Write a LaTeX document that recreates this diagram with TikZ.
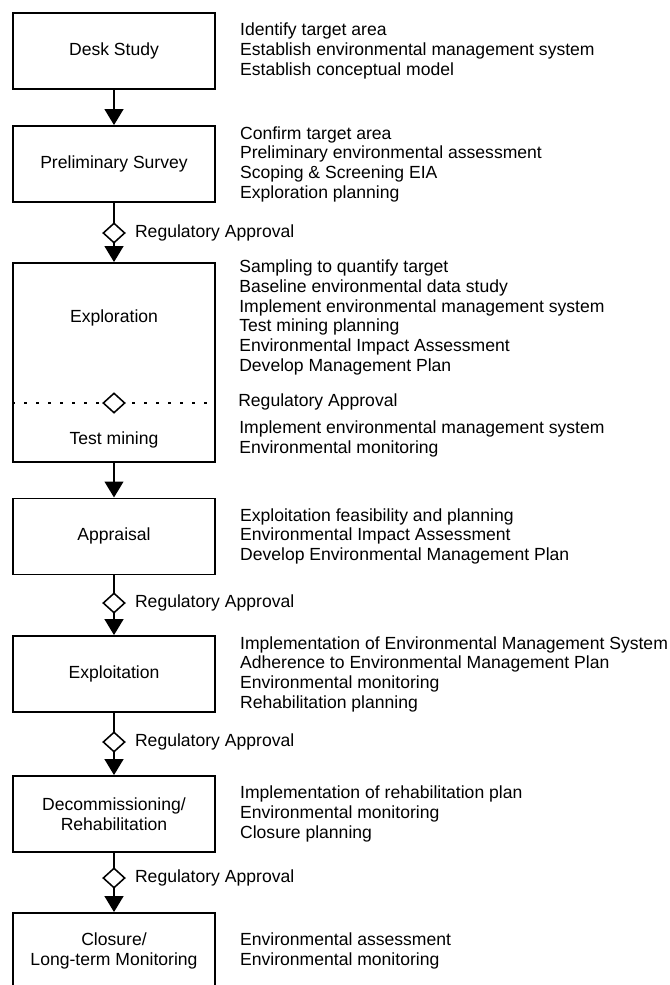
\documentclass[tikz,border=0pt]{standalone}
\usepackage{fontspec}
\setmainfont{Liberation Sans}
\usetikzlibrary{arrows.meta,positioning,shapes.geometric}
\tikzset{
    stage diagram/.style = {>={Triangle[length=4mm, width=4.6mm]},
                            font=\fontsize{12.5}{14}\selectfont},
    block/.style         = {draw, line width=1.2pt, fill=white, align=center,
                            minimum width=5.05cm, minimum height=1.9cm},
    tall block/.style    = {block, minimum height=4.975cm},
    gate/.style          = {diamond, draw, line width=1.1pt, fill=white,
                            minimum width=0.55cm, minimum height=0.5cm,
                            inner sep=0pt},
    flow/.style          = {line width=2.1pt},
    note/.style          = {align=left, inner sep=0pt, anchor=west},
    approval/.style      = {inner sep=0pt, anchor=west},
    separator/.style     = {line width=1pt, dash pattern=on 0.075cm off 0.225cm}
}

\begin{document}
\begin{tikzpicture}[stage diagram]
\useasboundingbox (0, 0) rectangle (16.75, -24.625);

% ================= Stages =================
\node[block] (desk) at (2.85, -1.275) {Desk Study};
\node[block] (prelim) at (2.85, -4.1) {Preliminary Survey};
\node[tall block] (expl) at (2.85, -9.0625) {};
\node (expl label) at (2.85, -7.95) {Exploration};
\node (test label) at (2.85, -11.0) {Test mining};
\node[block] (appr) at (2.85, -13.41) {Appraisal};
\node[block] (exploit) at (2.85, -16.85) {Exploitation};
\node[block] (decom) at (2.85, -20.35) {Decommissioning/\\Rehabilitation};
\node[block] (closure) at (2.85, -23.775) {Closure/\\Long-term Monitoring};

% ================= Approval gates =================
\coordinate (g1) at (2.85, -5.825);
\coordinate (g2) at (2.85, -10.075);
\coordinate (g3) at (2.85, -15.075);
\coordinate (g4) at (2.85, -18.55);
\coordinate (g5) at (2.85, -21.95);

\draw[flow, ->] (desk) -- (prelim);
\draw[flow] (prelim) -- (g1);
\draw[flow, ->] (g1) -- (expl);
\draw[flow, ->] (expl) -- (appr);
\draw[flow] (appr) -- (g3);
\draw[flow, ->] (g3) -- (exploit);
\draw[flow] (exploit) -- (g4);
\draw[flow, ->] (g4) -- (decom);
\draw[flow] (decom) -- (g5);
\draw[flow, ->] (g5) -- (closure);

\draw[separator] (expl.west |- g2) -- (expl.east |- g2);

\node[gate] (gate1) at (g1) {};
\node[gate] (gate2) at (g2) {};
\node[gate] (gate3) at (g3) {};
\node[gate] (gate4) at (g4) {};
\node[gate] (gate5) at (g5) {};

\node[approval, right=0.225cm of gate1] {Regulatory Approval};
\node[approval, right=0.225cm of gate3] {Regulatory Approval};
\node[approval, right=0.225cm of gate4] {Regulatory Approval};
\node[approval, right=0.225cm of gate5] {Regulatory Approval};
\node[approval] at (5.95, -10.05) {Regulatory Approval};

% ================= Activities =================
\node[note, right=0.6cm of desk] {Identify target area\\
    Establish environmental management system\\
    Establish conceptual model};
\node[note, right=0.6cm of prelim] {Confirm target area\\
    Preliminary environmental assessment\\
    Scoping \& Screening EIA\\
    Exploration planning};
\node[note] at (5.975, -7.94) {Sampling to quantify target\\
    Baseline environmental data study\\
    Implement environmental management system\\
    Test mining planning\\
    Environmental Impact Assessment\\
    Develop Management Plan};
\node[note] at (5.975, -10.975) {Implement environmental management system\\
    Environmental monitoring};
\node[note, right=0.6cm of appr] {Exploitation feasibility and planning\\
    Environmental Impact Assessment\\
    Develop Environmental Management Plan};
\node[note, right=0.6cm of exploit] {Implementation of Environmental Management System\\
    Adherence to Environmental Management Plan\\
    Environmental monitoring\\
    Rehabilitation planning};
\node[note, right=0.6cm of decom] {Implementation of rehabilitation plan\\
    Environmental monitoring\\
    Closure planning};
\node[note, right=0.6cm of closure] {Environmental assessment\\
    Environmental monitoring};

\end{tikzpicture}
\end{document}
